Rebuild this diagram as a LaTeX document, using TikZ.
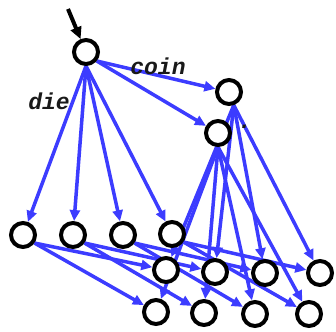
\documentclass[tikz,border=0pt]{standalone}
\usepackage{fontspec}
\newfontfamily\lblfont{Liberation Mono}
\usetikzlibrary{arrows.meta,backgrounds}
\definecolor{eblue}{RGB}{60,60,255}
\begin{document}
\begin{tikzpicture}[x=1pt,y=-1pt,
  state/.style={circle,draw=black,line width=4pt,fill=white,minimum size=24pt,inner sep=0pt},
  edge/.style={draw=eblue,line width=3.5pt,-{Triangle[length=11pt,width=10pt]}},
  inarrow/.style={draw=black,line width=4pt,-{Triangle[length=12pt,width=11pt]}},
  lbl/.style={font=\lblfont\bfseries\itshape\fontsize{23}{23}\selectfont,text=black!90,inner sep=0pt}]
\useasboundingbox (0,0) rectangle (336,331);
% states
\node[state] (root) at (86,52) {};
\node[state] (c1) at (229,92) {};
\node[state] (c2) at (218,133) {};
\node[state] (a1) at (23,235) {};
\node[state] (a2) at (73,235) {};
\node[state] (a3) at (123,235) {};
\node[state] (a4) at (172,234) {};
\node[state] (h1) at (166,270) {};
\node[state] (h2) at (215,272) {};
\node[state] (h3) at (265,273) {};
\node[state] (h4) at (320,273) {};
\node[state] (t1) at (156,312) {};
\node[state] (t2) at (204,313) {};
\node[state] (t3) at (255,314) {};
\node[state] (t4) at (309,314) {};
\coordinate (start) at (68,9);
% labels
\node[lbl] (lcoin) at (158,66) {coin};
\node[lbl] (ldie) at (49,101) {die};
\node[lbl] (ldot) at (245,127) {.};
\begin{scope}[on background layer]
\draw[inarrow] (start) -- (root);
\foreach \t in {a1,a2,a3,a4} \draw[edge] (root.south) -- (\t);
\draw[edge] (root.-40) -- (c1);
\draw[edge] (root.-40) -- (c2);
\foreach \t in {h1,h2,h3,h4} \draw[edge] (c1.-70) -- (\t);
\foreach \t in {t1,t2,t3,t4} \draw[edge] (c2.south) -- (\t);
\draw[edge] (a1.-35) -- (h1);
\draw[edge] (a1.-35) -- (t1);
\draw[edge] (a2.-35) -- (h2);
\draw[edge] (a2.-35) -- (t2);
\draw[edge] (a3.-35) -- (h3);
\draw[edge] (a3.-35) -- (t3);
\draw[edge] (a4.-35) -- (h4);
\draw[edge] (a4.-35) -- (t4);
\end{scope}
\end{tikzpicture}
\end{document}
